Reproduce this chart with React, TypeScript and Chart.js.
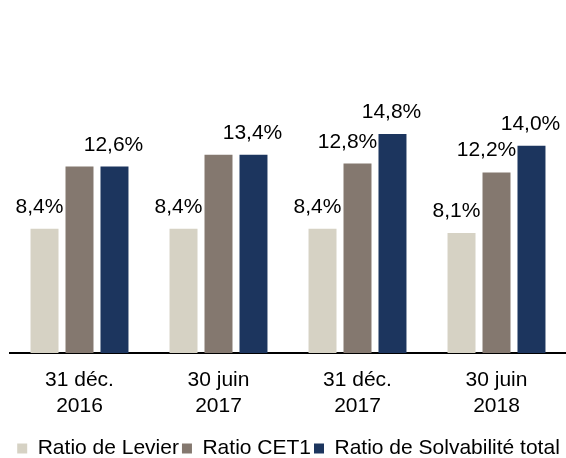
import React, { useEffect, useRef } from "react";
import { Chart, registerables } from "chart.js";

Chart.register(...registerables);

const categories: string[][] = [
  ["31 déc.", "2016"],
  ["30 juin", "2017"],
  ["31 déc.", "2017"],
  ["30 juin", "2018"],
];
const seriesNames = ["Ratio de Levier", "Ratio CET1", "Ratio de Solvabilité total"];
const levier = [8.4, 8.4, 8.4, 8.1];
const cet1 = [12.6, 13.4, 12.8, 12.2];
const solvabilite = [12.6, 13.4, 14.8, 14.0];
const showLevier = [true, true, true, true];
const showCet1 = [false, false, true, true];
const showSolvabilite = [true, true, true, true];
const colors = ["#D6D2C4", "#84786F", "#1C355E"];
const labelShift = [-5, -10, -1];

const FONT = "'Liberation Sans', Arial, Helvetica, sans-serif";

const fmt = (v: number) => v.toFixed(1).replace(".", ",") + "%";

const valueLabels = {
  id: "valueLabels",
  afterDatasetsDraw(chart: any) {
    const ctx = chart.ctx;
    const shows = [showLevier, showCet1, showSolvabilite];
    ctx.save();
    ctx.font = `21px ${FONT}`;
    ctx.fillStyle = "#000000";
    ctx.textAlign = "center";
    ctx.textBaseline = "alphabetic";
    chart.data.datasets.forEach((ds: any, i: number) => {
      const meta = chart.getDatasetMeta(i);
      meta.data.forEach((el: any, j: number) => {
        if (!shows[i][j]) return;
        ctx.fillText(fmt(ds.data[j]), el.x + labelShift[i], el.y - 16);
      });
    });
    ctx.restore();
  },
};

export default function App() {
  const ref = useRef<HTMLCanvasElement | null>(null);
  useEffect(() => {
    document.body.style.margin = "0";
    if (!ref.current) return;
    const chart = new Chart(ref.current, {
      type: "bar",
      data: {
        labels: categories,
        datasets: [
          { label: seriesNames[0], data: levier, backgroundColor: colors[0] },
          { label: seriesNames[1], data: cet1, backgroundColor: colors[1] },
          { label: seriesNames[2], data: solvabilite, backgroundColor: colors[2] },
        ],
      },
      options: {
        animation: false,
        responsive: true,
        maintainAspectRatio: false,
        layout: { padding: { left: 10, right: -1, top: 57, bottom: -11 } },
        datasets: { bar: { categoryPercentage: 0.755, barPercentage: 0.8 } },
        plugins: {
          legend: {
            position: "bottom",
            labels: {
              boxWidth: 10,
              boxHeight: 10,
              padding: 3,
              color: "#000000",
              font: { family: FONT, size: 21 },
            },
          },
          tooltip: { enabled: false },
        },
        scales: {
          x: {
            grid: { display: false, drawTicks: false },
            border: { display: true, color: "#000000", width: 2 },
            ticks: {
              color: "#000000",
              font: { family: FONT, size: 21, lineHeight: 1.2 },
              padding: 15,
              maxRotation: 0,
            },
            afterFit: (scale: any) => {
              scale.height = 82;
            },
          },
          y: {
            min: 0,
            max: 20,
            display: false,
          },
        },
      },
      plugins: [valueLabels],
    });
    return () => chart.destroy();
  }, []);
  return (
    <div style={{ position: "relative", width: "566px", height: "458px" }}>
      <canvas ref={ref} />
    </div>
  );
}
